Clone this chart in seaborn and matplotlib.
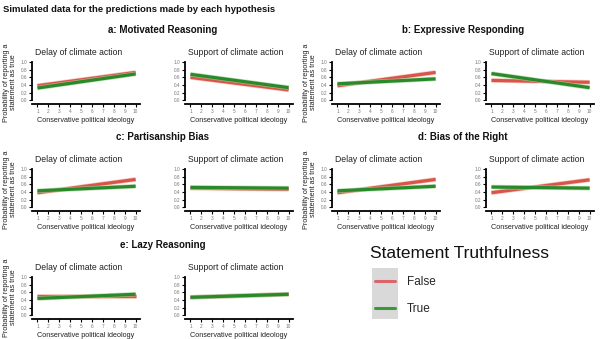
import matplotlib
matplotlib.use("Agg")
import matplotlib.pyplot as plt
import matplotlib.patheffects as pe
from matplotlib.lines import Line2D
from matplotlib.patches import Rectangle
import seaborn as sns
import pandas as pd

sns.set_style("white")
plt.rcParams['font.family'] = ['Liberation Sans', 'DejaVu Sans']

# ---- data (values read at ideology = 1 and ideology = 10) ----
ideology = [1, 10]
panels = ["a: Motivated Reasoning", "b: Expressive Responding", "c: Partisanship Bias",
          "d: Bias of the Right", "e: Lazy Reasoning"]
statements = ["Delay of climate action", "Support of climate action"]
truth_levels = ["False", "True"]

a_delay_false = [0.38, 0.73]
a_delay_true = [0.32, 0.69]
a_support_false = [0.60, 0.27]
a_support_true = [0.68, 0.33]
b_delay_false = [0.38, 0.73]
b_delay_true = [0.43, 0.56]
b_support_false = [0.52, 0.47]
b_support_true = [0.70, 0.33]
c_delay_false = [0.38, 0.73]
c_delay_true = [0.43, 0.55]
c_support_false = [0.50, 0.47]
c_support_true = [0.52, 0.50]
d_delay_false = [0.38, 0.73]
d_delay_true = [0.43, 0.55]
d_support_false = [0.38, 0.72]
d_support_true = [0.53, 0.50]
e_delay_false = [0.50, 0.50]
e_delay_true = [0.44, 0.55]
e_support_false = [0.47, 0.55]
e_support_true = [0.47, 0.55]

series = {
    (panels[0], statements[0]): (a_delay_false, a_delay_true),
    (panels[0], statements[1]): (a_support_false, a_support_true),
    (panels[1], statements[0]): (b_delay_false, b_delay_true),
    (panels[1], statements[1]): (b_support_false, b_support_true),
    (panels[2], statements[0]): (c_delay_false, c_delay_true),
    (panels[2], statements[1]): (c_support_false, c_support_true),
    (panels[3], statements[0]): (d_delay_false, d_delay_true),
    (panels[3], statements[1]): (d_support_false, d_support_true),
    (panels[4], statements[0]): (e_delay_false, e_delay_true),
    (panels[4], statements[1]): (e_support_false, e_support_true),
}

rows = []
for (p, s), (fv, tv) in series.items():
    for lvl, vals in zip(truth_levels, (fv, tv)):
        for x, y in zip(ideology, vals):
            rows.append(dict(panel=p, statement=s, truth=lvl, ideology=x, prob=y))
df = pd.DataFrame(rows)

palette = {"False": "#D9544C", "True": "#2A8A2A"}
glow = {"False": "#F2B49A", "True": "#A8D3A0"}

W, H = 600, 339
fig = plt.figure(figsize=(6.0, 3.39), dpi=100)

def px_axes(left, top, width, height):
    return fig.add_axes([left / W, 1 - (top + height) / H, width / W, height / H])

col_lefts = [[32, 185], [332, 486]]
row_tops = [61, 168, 276]
ax_w, ax_h = 108, 43

panel_pos = [(0, 0), (0, 1), (1, 0), (1, 1), (2, 0)]

for pi, p in enumerate(panels):
    r, c = panel_pos[pi]
    top = row_tops[r]
    lefts = col_lefts[c]
    for si, s in enumerate(statements):
        ax = px_axes(lefts[si], top, ax_w, ax_h)
        sub = df[(df.panel == p) & (df.statement == s)]
        sns.lineplot(data=sub, x="ideology", y="prob", hue="truth", hue_order=truth_levels,
                     palette=palette, linewidth=2.3, legend=False, ax=ax, errorbar=None)
        for line, lvl in zip(ax.get_lines(), truth_levels):
            line.set_path_effects([pe.Stroke(linewidth=3.3, foreground=glow[lvl], alpha=0.7), pe.Normal()])
            line.set_solid_capstyle("butt")
        ax.set_xlim(0.5, 10.4)
        ax.set_ylim(-0.1, 1.03)
        ax.set_xticks(range(1, 11))
        ax.set_yticks([0.0, 0.2, 0.4, 0.6, 0.8, 1.0])
        ax.set_yticklabels(["0.0", "0.2", "0.4", "0.6", "0.8", "1.0"])
        ax.tick_params(axis="both", labelsize=3.4, labelcolor="#777777", length=2, width=0.8,
                       pad=1.5, color="black", left=True, bottom=True)
        sns.despine(ax=ax)
        for sp in ("left", "bottom"):
            ax.spines[sp].set_linewidth(1.3)
            ax.spines[sp].set_color("black")
        ax.spines["left"].set_bounds(0.0, 1.0)
        ax.set_xlabel("Conservative political ideology", fontsize=5.2, labelpad=2, color="#222222")
        ax.set_ylabel("")
        ax.set_title(s, fontsize=6.2, loc="left", pad=4, color="#222222", x=0.03)
        ax.set_facecolor("none")
    # panel title
    pcx = (col_lefts[c][0] + col_lefts[c][1] + ax_w) / 2
    fig.text(pcx / W, 1 - (top - 31) / H, p, fontsize=7, fontweight="bold",
             ha="center", va="center", color="#111111")
    # y label for panel
    fig.text((col_lefts[c][0] - 22) / W, 1 - (top + ax_h / 2) / H,
             "Probability of reporting a\nstatement as true", fontsize=5.2, rotation=90,
             ha="center", va="center", color="#222222", linespacing=1.0)

fig.text(3 / W, 1 - 10 / H, "Simulated data for the predictions made by each hypothesis",
         fontsize=6.8, fontweight="bold", ha="left", va="center", color="#111111")

# legend
fig.text(370 / W, 1 - 253 / H, "Statement Truthfulness", fontsize=12.5,
         ha="left", va="center", color="#111111")
handles = [Line2D([0], [0], color="#D9666A", lw=2.2), Line2D([0], [0], color="#3A983A", lw=2.2)]
leg = fig.legend(handles, truth_levels, frameon=False,
                 loc="upper left", bbox_to_anchor=(375 / W, 1 - 276 / H),
                 fontsize=8.5, handlelength=1.7, handletextpad=1.0,
                 labelspacing=1.3, borderaxespad=0, borderpad=0)

fig.canvas.draw()
renderer = fig.canvas.get_renderer()
exts = [h.get_window_extent(renderer) for h in leg.legend_handles]
x0 = min(e.x0 for e in exts) - 3
x1 = max(e.x1 for e in exts) + 3
ytop = max(e.y1 for e in exts) + 13
ybot = min(e.y0 for e in exts) - 11
fig.patches.append(Rectangle((x0 / W, ybot / H), (x1 - x0) / W, (ytop - ybot) / H,
                             transform=fig.transFigure, facecolor="#D9D9D9",
                             edgecolor="none", zorder=-1))

fig.savefig("out.png", dpi=100)
